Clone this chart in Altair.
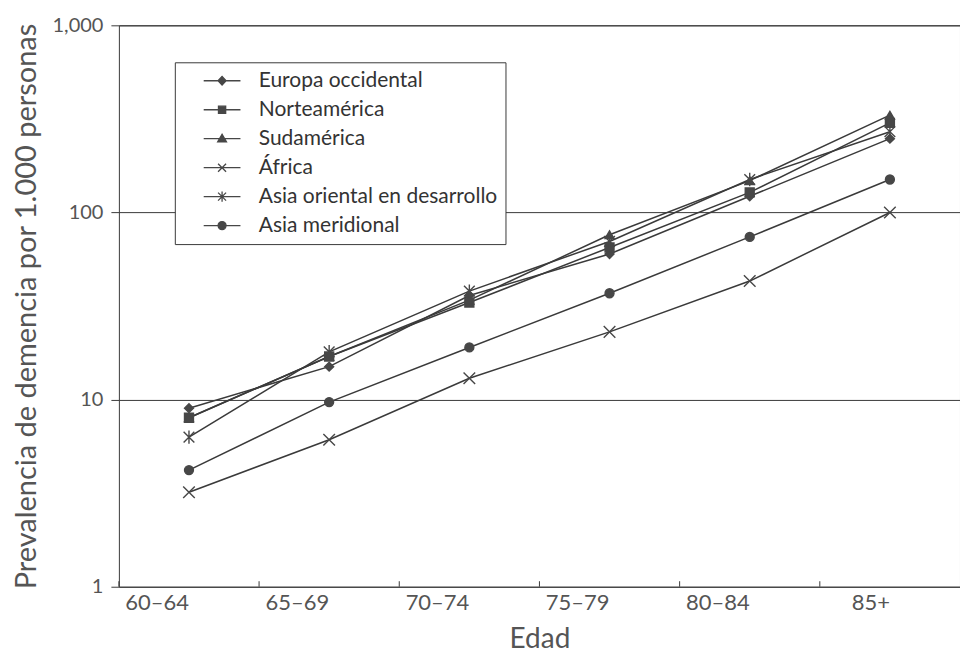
import altair as alt
import pandas as pd

# ---- data -------------------------------------------------------------
edades = ["60–64", "65–69", "70–74", "75–79", "80–84", "85+"]
regiones = [
    "Europa occidental",
    "Norteamérica",
    "Sudamérica",
    "África",
    "Asia oriental en desarrollo",
    "Asia meridional",
]
europa_occidental = [9, 15, 36, 60, 122, 248]
norteamerica = [8, 17, 33, 65, 128, 301]
sudamerica = [8, 17, 34, 76, 148, 331]
africa = [3.2, 6.1, 13, 23, 43, 100]
asia_oriental = [6.3, 18, 38, 70, 150, 270]
asia_meridional = [4.2, 9.7, 19, 37, 74, 150]
y_ticks = [1, 10, 100, 1000]

series = [europa_occidental, norteamerica, sudamerica, africa, asia_oriental, asia_meridional]
rows = []
for reg, vals in zip(regiones, series):
    for e, v in zip(edades, vals):
        rows.append({"region": reg, "edad": e, "valor": v})
df = pd.DataFrame(rows)
df_edades = pd.DataFrame({"edad": edades})

# ---- styling ----------------------------------------------------------
FONT = "Lato"
DARK = "#3a3a3a"
MARK = "#474747"
TXT = "#555555"

# shapes on the plot
X_PATH = "M-1.3,-1.3L1.3,1.3M-1.3,1.3L1.3,-1.3"
AST_PATH = "M-1.2,-1.2L1.2,1.2M-1.2,1.2L1.2,-1.2M0,-1.5L0,1.5"
plot_shapes = ["diamond", "square", "triangle-up", X_PATH, AST_PATH, "circle"]

# legend symbols: line - marker - line
LN = "M2.6,0L11.8,0"
legend_shapes = [
    LN + "M6.2,0L7.2,-1.1L8.2,0L7.2,1.1Z",
    LN + "M6.3,-0.9L8.1,-0.9L8.1,0.9L6.3,0.9Z",
    LN + "M6.1,0.8L8.3,0.8L7.2,-1.1Z",
    LN + "M6.2,-1L8.2,1M6.2,1L8.2,-1",
    LN + "M6.2,-1L8.2,1M6.2,1L8.2,-1M7.2,-1.3L7.2,1.3",
    LN + "M8.2,0A1,1,0,1,1,6.2,0A1,1,0,1,1,8.2,0Z",
]

x_enc = alt.X(
    "edad:N",
    sort=edades,
    scale=alt.Scale(type="band", paddingInner=0, paddingOuter=0),
    axis=alt.Axis(
        title="Edad",
        ticks=False,
        domain=False,
        labelAngle=0,
        labelFontSize=22,
        labelColor=TXT,
        labelPadding=16,
        titleFontSize=28,
        titleFontWeight="normal",
        titleColor=TXT,
        titlePadding=12,
    ),
)
y_scale = alt.Scale(type="log", domain=[1, 1000])
y_enc = alt.Y(
    "valor:Q",
    scale=y_scale,
    axis=alt.Axis(
        title="Prevalencia de demencia por 1.000 personas",
        values=y_ticks,
        format=",",
        grid=True,
        gridColor=DARK,
        gridWidth=1,
        gridOpacity=1,
        domain=False,
        tickColor=DARK,
        tickSize=8,
        labelPadding=8,
        labelFontSize=20,
        labelColor=TXT,
        titleFontSize=29,
        titleFontWeight="normal",
        titleColor=TXT,
        titlePadding=11,
    ),
)

ticks = alt.Chart(df_edades).mark_rule(color=DARK, strokeWidth=1).encode(
    x=alt.X("edad:N", sort=edades, bandPosition=0),
    y=alt.Y(datum=1),
    y2=alt.Y2(datum=1.07),
)

lines = alt.Chart(df).mark_line(color=DARK, strokeWidth=1.5).encode(
    x=x_enc,
    y=y_enc,
    detail="region:N",
)

points = alt.Chart(df).mark_point(
    filled=True, fill=MARK, stroke=MARK, strokeWidth=1.4, size=80, opacity=1
).encode(
    x=alt.X("edad:N", sort=edades),
    y=alt.Y("valor:Q"),
    shape=alt.Shape(
        "region:N",
        scale=alt.Scale(domain=regiones, range=plot_shapes),
        legend=None,
    ),
)

legend_layer = alt.Chart(df).mark_point(
    filled=True, fill=MARK, stroke=MARK, strokeWidth=1.3, size=64, opacity=0
).encode(
    x=alt.X("edad:N", sort=edades),
    y=alt.Y("valor:Q"),
    shape=alt.Shape(
        "region:N",
        scale=alt.Scale(domain=regiones, range=legend_shapes),
        legend=alt.Legend(
            title=None,
            orient="none",
            legendX=56,
            legendY=37,
            direction="vertical",
            symbolSize=64,
            symbolStrokeWidth=1.3,
            symbolOpacity=1,
            labelFontSize=21,
            labelFont=FONT,
            labelColor="#333",
            labelOffset=55,
            labelLimit=400,
            rowPadding=7,
            padding=8,
            strokeColor=DARK,
            fillColor="white",
        ),
    ),
)

chart = (
    alt.layer(ticks, lines, points, legend_layer)
    .resolve_scale(shape="independent")
    .properties(
        width=842,
        height=562,
        padding={"left": 4, "top": 7, "right": 0, "bottom": 0},
        background="white",
    )
    .configure(font=FONT)
    .configure_view(stroke=DARK, strokeWidth=1)
)

chart.save("out.html", embed_options={"renderer": "svg", "actions": False})
